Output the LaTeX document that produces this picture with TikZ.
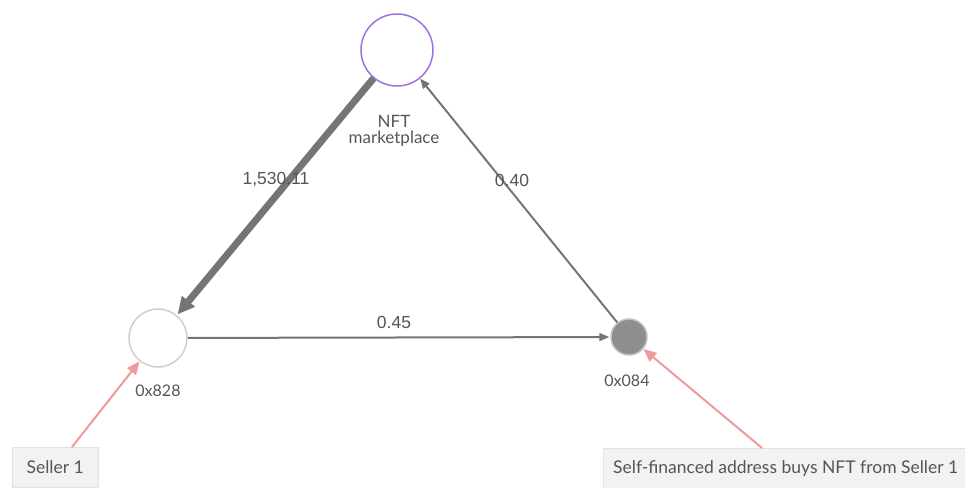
\documentclass[tikz,border=0pt]{standalone}
\usepackage{fontspec}
\setmainfont{Lato}
\newfontfamily\numfont{Liberation Sans}
\usetikzlibrary{arrows.meta}
\definecolor{edgegrey}{HTML}{757575}
\definecolor{txtgrey}{HTML}{555555}
\definecolor{pinkline}{HTML}{EE9A9A}
\definecolor{mkt}{HTML}{A070E0}
\definecolor{ringgrey}{HTML}{CFCFCF}
\definecolor{filled}{HTML}{8E8E8E}
\definecolor{boxfill}{HTML}{F2F2F2}
\definecolor{boxline}{HTML}{E2E2E2}
\tikzset{
  addr/.style={circle, inner sep=0pt, line width=1.5pt},
  lbl/.style={text=txtgrey, font=\fontsize{17}{18}\selectfont, align=center},
  elbl/.style={text=txtgrey, font=\numfont\fontsize{17.5}{19}\selectfont},
  flow/.style={draw=edgegrey, line width=2pt, -{Triangle[length=10pt,width=8pt]}},
  bigflow/.style={draw=edgegrey, line width=7pt, -{Triangle[length=17pt,width=16pt]}},
  note/.style={draw=boxline, fill=boxfill, text=txtgrey, font=\fontsize{17.5}{19}\selectfont, inner xsep=10pt, anchor=north west, minimum height=40pt},
  pinkarr/.style={draw=pinkline, line width=2pt, -{Triangle[length=13pt,width=11pt]}}
}
\begin{document}
\begin{tikzpicture}[x=1pt,y=-1pt]
\useasboundingbox (0,0) rectangle (965,487);
\node[addr, draw=mkt, minimum size=72pt] (m) at (397,50) {};
\node[lbl] (ml) at (394,131) {NFT\\[-2pt]marketplace};
\node[addr, draw=ringgrey, fill=white, minimum size=58pt] (a) at (158,338) {};
\node[lbl, font=\fontsize{16}{18}\selectfont] (al) at (158,391) {0x828};
\node[addr, draw=ringgrey!80!filled, fill=filled, minimum size=36pt] (b) at (629,337) {};
\node[lbl, font=\fontsize{16}{18}\selectfont] (bl) at (627,381) {0x084};
\node[note, minimum width=86pt] (s1) at (12,447) {Seller 1};
\node[note, minimum width=360pt] (s2) at (603,448) {Self-financed address buys NFT from Seller 1};
\coordinate (s1t) at (72,447);
\coordinate (s2t) at (762,448);

\draw[bigflow, shorten >=1pt] (m) -- (a);
\node[elbl] (e1) at (276,180) {1,530.11};
\draw[flow] (b) -- (m);
\node[elbl] (e2) at (512,180) {0.40};
\draw[flow, shorten >=1pt] (a) -- (b);
\node[elbl] (e3) at (394,322) {0.45};
\draw[pinkarr] (s1t) -- (a);
\draw[pinkarr] (s2t) -- (b);
\end{tikzpicture}
\end{document}
